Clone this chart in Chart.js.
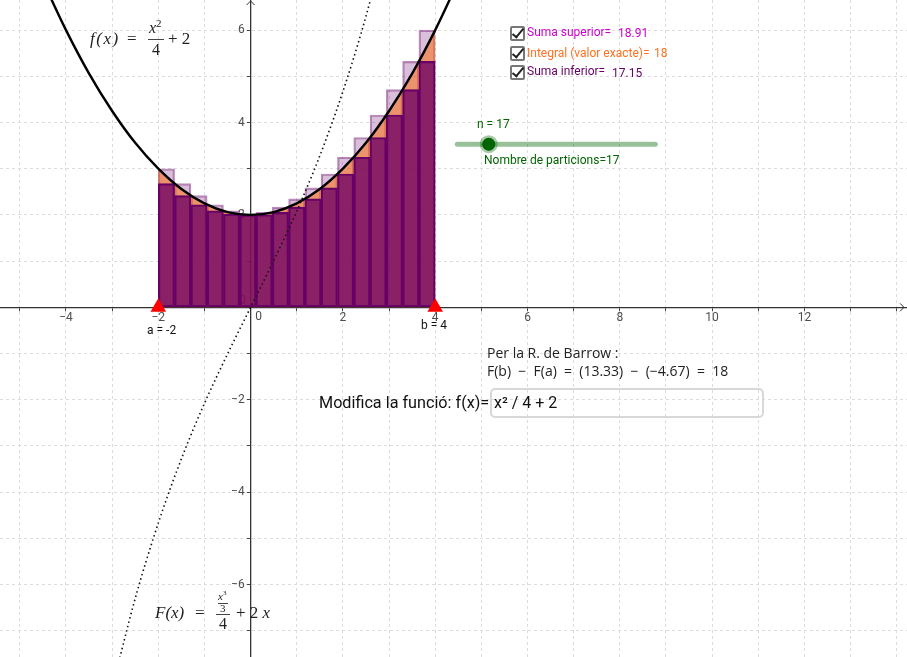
<!DOCTYPE html>
<html>
<head>
<meta charset="utf-8">
<script src="https://cdn.jsdelivr.net/npm/chart.js@4/dist/chart.umd.js"></script>
<style>
html, body { margin: 0; padding: 0; background: #fff; overflow: hidden; }
#wrap { position: relative; width: 907px; height: 657px; }
canvas { position: absolute; left: 0; top: 0; }
.t { position: absolute; white-space: nowrap; font-family: Roboto, sans-serif; font-size: 12px; line-height: 14px; }
.m { position: absolute; white-space: nowrap; font-family: "Liberation Serif", serif; font-size: 17px; line-height: 18px; color: #222; }
.i { font-style: italic; }
.l { position: absolute; height: 1px; background: #444; }
.tex { font-family: "Open Sans", sans-serif; font-size: 14px; color: #222; }
.cb { position: absolute; left: 510px; width: 11px; height: 11px; border: 2px solid #777; border-radius: 2px; background: #fff; }
.cb i { position: absolute; left: 3px; top: -2px; width: 4px; height: 10px; border: solid #222; border-width: 0 2px 2px 0; transform: rotate(40deg); }
#box { position: absolute; left: 490px; top: 388px; width: 268px; height: 26px; border: 2px solid #d8d8d8; border-radius: 5px;
  font-family: Roboto, sans-serif; font-size: 16px; line-height: 26px; padding-left: 2px; color: #111; }
</style>
</head>
<body>
<div id="wrap">
<canvas id="myChart" width="907" height="657"></canvas>

<div class="m i" style="left:90px;top:30px;letter-spacing:1.5px">f(x)</div>
<div class="m" style="left:127px;top:30px">=</div>
<div class="m i" style="left:149px;top:19px;font-size:16px">x<sup style="font-size:11px;font-style:normal;line-height:0">2</sup></div>
<div class="l" style="left:148px;top:39px;width:16px"></div>
<div class="m" style="left:152px;top:41px;font-size:16px">4</div>
<div class="m" style="left:168px;top:30px">+ 2</div>

<div class="m i" style="left:155px;top:604px">F(x)</div>
<div class="m" style="left:195px;top:604px">=</div>
<div class="m i" style="left:218px;top:590px;font-size:11px;line-height:12px">x<sup style="font-size:7px;font-style:normal;line-height:0">3</sup></div>
<div class="l" style="left:218px;top:603px;width:10px"></div>
<div class="m" style="left:220px;top:603px;font-size:11px;line-height:11px">3</div>
<div class="l" style="left:216px;top:614px;width:14px"></div>
<div class="m" style="left:219px;top:615px;font-size:16px">4</div>
<div class="m" style="left:236px;top:604px">+ 2 <span class="i">x</span></div>

<div class="cb" style="top:26px"><i></i></div>
<div class="cb" style="top:46px"><i></i></div>
<div class="cb" style="top:65px"><i></i></div>
<div class="t" style="left:527px;top:25px;color:#cc00cc">Suma superior=</div>
<div class="t" style="left:618px;top:26px;color:#cc00cc">18.91</div>
<div class="t" style="left:527px;top:46px;color:#ff7020">Integral (valor exacte)=</div>
<div class="t" style="left:654px;top:46px;color:#ff7020">18</div>
<div class="t" style="left:527px;top:64px;color:#660066">Suma inferior=</div>
<div class="t" style="left:612px;top:66px;color:#660066">17.15</div>

<div class="t" style="left:477px;top:117px;color:#006400">n = 17</div>
<div class="t" style="left:484px;top:153px;color:#006400">Nombre de particions=17</div>

<div class="t" style="left:147px;top:323px;color:#111">a = -2</div>
<div class="t" style="left:421px;top:318px;color:#111">b = 4</div>

<div class="t tex" style="left:487px;top:346px">Per la R. de Barrow :</div>
<div class="t tex" style="left:487px;top:364px;word-spacing:3.6px">F(b) &minus; F(a) = (13.33) &minus; (&minus;4.67) = 18</div>
<div class="t" style="left:319px;top:394px;font-size:16.2px;line-height:18px;color:#111">Modifica la funció: f(x)=</div>
<div id="box">x² / 4 + 2</div>
</div>

<script>
// tick labels
const xTickValues = [-4, -2, 2, 4, 6, 8, 10, 12];
const yTickValues = [-6, -4, -2, 2, 4, 6];

// rectangles, n = 17 between a = -2 and b = 4
const barCenters = [-1.8235, -1.4706, -1.1176, -0.7647, -0.4118, -0.0588, 0.2941, 0.6471, 1.0,
    1.3529, 1.7059, 2.0588, 2.4118, 2.7647, 3.1176, 3.4706, 3.8235];
const upperSum = [3, 2.678, 2.419, 2.221, 2.087, 2.014, 2.055, 2.17, 2.346,
    2.585, 2.886, 3.249, 3.675, 4.163, 4.713, 5.325, 6];
const lowerSum = [2.678, 2.419, 2.221, 2.087, 2.014, 2, 2.003, 2.055, 2.17,
    2.346, 2.585, 2.886, 3.249, 3.675, 4.163, 4.713, 5.325];

// f(x)
const curveX = [-4.5, -4, -3.5, -3, -2.5, -2, -1.5, -1, -0.5, 0, 0.5, 1, 1.5, 2, 2.5, 3, 3.5, 4, 4.5];
const curveY = [7.06, 6, 5.06, 4.25, 3.56, 3, 2.56, 2.25, 2.06, 2, 2.06, 2.25, 2.56, 3, 3.56, 4.25, 5.06, 6, 7.06];

// area under f between a and b
const areaX = [-2, -1.5, -1, -0.5, 0, 0.5, 1, 1.5, 2, 2.5, 3, 3.5, 4];
const areaY = [3, 2.56, 2.25, 2.06, 2, 2.06, 2.25, 2.56, 3, 3.56, 4.25, 5.06, 6];

// F(x)
const primX = [-3, -2.5, -2, -1.5, -1, -0.5, 0, 0.5, 1, 1.5, 2, 2.5, 3];
const primY = [-8.25, -6.3, -4.67, -3.28, -2.08, -1.01, 0, 1.01, 2.08, 3.28, 4.67, 6.3, 8.25];

const limitsX = [-2, 4];
const limitsY = [0, 0];

// slider for n
const sliderX = [4.48, 8.77];
const sliderY = [3.53, 3.53];
const knobX = [5.16];
const knobY = [3.53];

const zip = (xs, ys) => xs.map((x, i) => ({x: x, y: ys[i]}));

// the axes sit inside the plot, so they must not eat any of it
const noPadding = s => {
    s.paddingLeft = 0;
    s.paddingRight = 0;
    s.paddingTop = 0;
    s.paddingBottom = 0;
};

// labels and arrow heads on the axes
const axisExtras = {
    id: "axisExtras",
    beforeDatasetsDraw(chart) {
        const ctx = chart.ctx;
        const ox = chart.scales.x.getPixelForValue(0);
        const oy = chart.scales.y.getPixelForValue(0);
        ctx.save();
        ctx.fillStyle = "#4d4d4d";
        ctx.font = "12px Roboto";
        ctx.textAlign = "center";
        ctx.textBaseline = "middle";
        ctx.fillText("0", ox - 8, oy - 6);
        ctx.fillText("0", ox + 8, oy + 10);
        ctx.strokeStyle = "#333";
        ctx.lineWidth = 1;
        ctx.beginPath();
        ctx.moveTo(ox - 4, 5);
        ctx.lineTo(ox, 1);
        ctx.lineTo(ox + 4, 5);
        ctx.moveTo(900, oy - 4);
        ctx.lineTo(904, oy);
        ctx.lineTo(900, oy + 4);
        ctx.stroke();
        ctx.restore();
    }
};

let myChart = new Chart("myChart", {
    data: {
        datasets: [
            {type: "bar", data: zip(barCenters, upperSum), order: 6, grouped: false, barPercentage: 1, categoryPercentage: 1,
                backgroundColor: "rgba(102,0,102,0.25)", borderColor: "rgba(102,0,102,0.45)", borderWidth: 1.5, borderSkipped: false},
            {type: "line", data: zip(areaX, areaY), order: 5, fill: "origin", tension: 0.33, pointRadius: 0,
                borderWidth: 0, borderColor: "rgba(0,0,0,0)", backgroundColor: "rgba(255,102,0,0.5)"},
            {type: "bar", data: zip(barCenters, lowerSum), order: 4, grouped: false, barPercentage: 1, categoryPercentage: 1,
                backgroundColor: "rgba(110,0,100,0.78)", borderColor: "#660066", borderWidth: 1.5, borderSkipped: false},
            {type: "line", data: zip(primX, primY), order: 3, tension: 0.33, pointRadius: 0,
                borderColor: "#111", borderWidth: 1.6, borderDash: [1.5, 3]},
            {type: "line", data: zip(curveX, curveY), order: 2, tension: 0.33, pointRadius: 0,
                borderColor: "#000", borderWidth: 2.4},
            {type: "line", data: zip(limitsX, limitsY), order: 1, showLine: false, pointStyle: "triangle", pointRadius: 9,
                pointBackgroundColor: "#ff0000", pointBorderWidth: 0},
            {type: "line", data: zip(sliderX, sliderY), order: 1, pointRadius: 0,
                borderColor: "rgba(0,100,0,0.4)", borderWidth: 5, borderCapStyle: "round"},
            {type: "line", data: zip(knobX, knobY), order: 0, showLine: false, pointRadius: 6.5,
                pointBackgroundColor: "#006400", pointBorderColor: "rgba(0,100,0,0.35)", pointBorderWidth: 5},
            {type: "line", data: zip(knobX, knobY), order: 0, showLine: false, pointRadius: 5.5,
                pointBackgroundColor: "#006400", pointBorderColor: "#111", pointBorderWidth: 1}
        ]
    },
    options: {
        responsive: false,
        animation: false,
        layout: {padding: 0, autoPadding: false},
        plugins: {legend: {display: false}, tooltip: {enabled: false}},
        scales: {
            x: {
                type: "linear",
                position: {y: 0},
                offset: false,
                min: -5.43,
                max: 14.223,
                afterFit: noPadding,
                grid: {offset: false, color: "#dcdcdc", tickColor: "#444", tickLength: 3, lineWidth: 1},
                border: {color: "#333", width: 1.3, dash: [3, 3]},
                ticks: {
                    stepSize: 1, includeBounds: false, autoSkip: false, maxRotation: 0, padding: 0,
                    color: "#4d4d4d", font: {family: "Roboto", size: 12},
                    callback: v => xTickValues.includes(v) ? String(v).replace("-", "\u2212") : ""
                }
            },
            y: {
                type: "linear",
                position: {x: 0},
                min: -7.569,
                max: 6.652,
                afterFit: noPadding,
                grid: {color: "#dcdcdc", tickColor: "#444", tickLength: 3, lineWidth: 1},
                border: {color: "#333", width: 1.3, dash: [3, 3]},
                ticks: {
                    stepSize: 1, includeBounds: false, autoSkip: false,
                    color: "#4d4d4d", font: {family: "Roboto", size: 12},
                    // labels on an inner axis ignore padding, the spaces push them off the line
                    callback: v => yTickValues.includes(v) ? String(v).replace("-", "\u2212") + "  " : ""
                }
            }
        }
    },
    plugins: [axisExtras]
});
</script>
</body>
</html>
